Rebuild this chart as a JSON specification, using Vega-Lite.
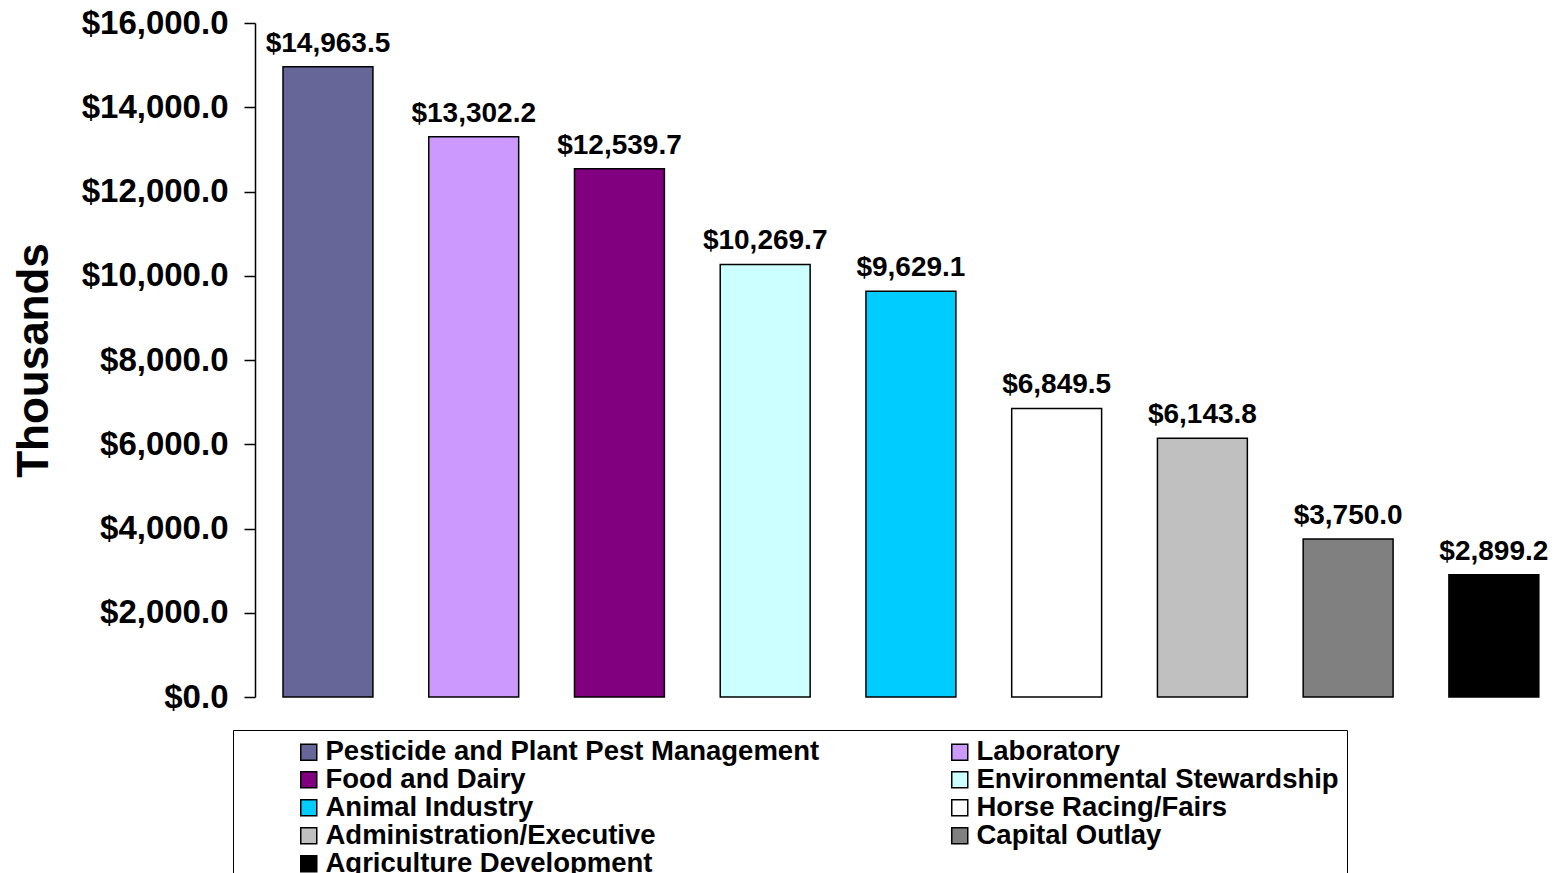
{
  "$schema": "https://vega.github.io/schema/vega-lite/v6.json",
  "autosize": {"type": "none"},
  "width": 1301,
  "height": 674,
  "padding": {"left": 255, "top": 23, "right": 0, "bottom": 176},
  "background": "white",
  "config": {"view": {"stroke": null}, "font": "Liberation Sans"},
  "data": {"values": [
    {"program": "Pesticide and Plant Pest Management", "value": 14963.5},
    {"program": "Laboratory", "value": 13302.2},
    {"program": "Food and Dairy", "value": 12539.7},
    {"program": "Environmental Stewardship", "value": 10269.7},
    {"program": "Animal Industry", "value": 9629.1},
    {"program": "Horse Racing/Fairs", "value": 6849.5},
    {"program": "Administration/Executive", "value": 6143.8},
    {"program": "Capital Outlay", "value": 3750.0},
    {"program": "Agriculture Development", "value": 2899.2}
  ]},
  "encoding": {
    "x": {"field": "program", "type": "nominal", "sort": null, "axis": null,
          "scale": {"paddingInner": 0.383, "paddingOuter": 0.155, "align": 0.62}},
    "y": {"field": "value", "type": "quantitative",
          "scale": {"domain": [0, 16000], "nice": false},
          "axis": {"values": [0, 2000, 4000, 6000, 8000, 10000, 12000, 14000, 16000],
                   "format": "$,.1f", "grid": false,
                   "labelFont": "Liberation Sans", "labelFontWeight": "bold", "labelFontSize": 33, "labelColor": "black",
                   "labelPadding": 16, "tickColor": "black", "tickSize": 11, "tickWidth": 1.5,
                   "domainColor": "black", "domainWidth": 1.5,
                   "title": "Thousands", "titleFont": "Liberation Sans", "titleFontSize": 44, "titleFontWeight": "bold",
                   "titleColor": "black", "titlePadding": 25}}
  },
  "layer": [
    {"mark": {"type": "bar", "stroke": "black", "strokeWidth": 1.5},
     "encoding": {
       "color": {"field": "program", "type": "nominal", "sort": null,
                 "scale": {"domain": ["Pesticide and Plant Pest Management", "Laboratory", "Food and Dairy", "Environmental Stewardship", "Animal Industry", "Horse Racing/Fairs", "Administration/Executive", "Capital Outlay", "Agriculture Development"],
                           "range": ["#666699", "#CC99FF", "#800080", "#CCFFFF", "#00CCFF", "#FFFFFF", "#C0C0C0", "#808080", "#000000"]},
                 "legend": {"orient": "none", "legendX": -22, "legendY": 707, "columns": 2, "direction": "horizontal", "gridAlign": "all",
                            "columnPadding": 126, "rowPadding": -2, "padding": 8,
                            "title": " ", "titleOrient": "left", "titleFontSize": 10, "titlePadding": 54,
                            "symbolType": "square", "symbolSize": 256, "symbolStrokeColor": "black", "symbolStrokeWidth": 1.5,
                            "symbolOpacity": 1,
                            "labelFont": "Liberation Sans", "labelFontWeight": "bold", "labelFontSize": 27.5, "labelColor": "black",
                            "labelOffset": 3, "labelLimit": 800,
                            "strokeColor": "black", "fillColor": "white"}}
     }},
    {"mark": {"type": "text", "font": "Liberation Sans", "fontWeight": "bold", "fontSize": 28, "baseline": "alphabetic", "dy": -15, "color": "black"},
     "encoding": {"text": {"field": "value", "type": "quantitative", "format": "$,.1f"}}}
  ]
}
